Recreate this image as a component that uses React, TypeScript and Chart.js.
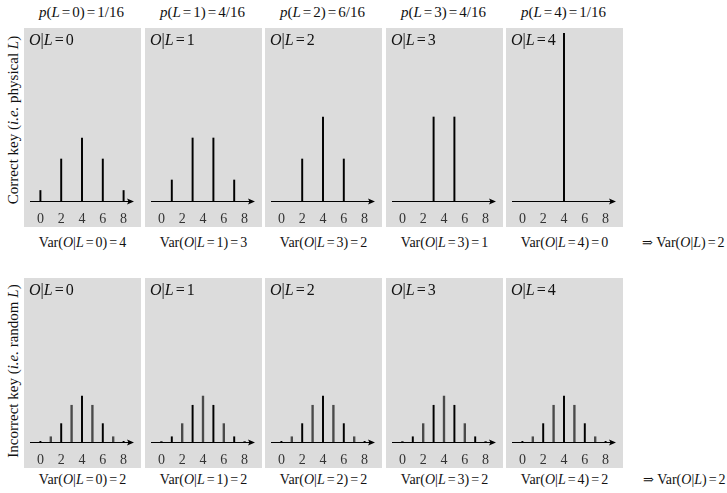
import React, { useEffect, useRef } from "react";
import { Chart, registerables } from "chart.js";

Chart.register(...registerables);

// ---------- data ----------
const outcomes = [0, 1, 2, 3, 4, 5, 6, 7, 8];
const tickValues = [0, 2, 4, 6, 8];
const leakageLevels = [0, 1, 2, 3, 4];
const priorLabels = ["1/16", "4/16", "6/16", "4/16", "1/16"];

// Correct key: P(O = o | L = l)
const correctL0 = [1 / 16, 0, 4 / 16, 0, 6 / 16, 0, 4 / 16, 0, 1 / 16];
const correctL1 = [0, 1 / 8, 0, 3 / 8, 0, 3 / 8, 0, 1 / 8, 0];
const correctL2 = [0, 0, 1 / 4, 0, 1 / 2, 0, 1 / 4, 0, 0];
const correctL3 = [0, 0, 0, 1 / 2, 0, 1 / 2, 0, 0, 0];
const correctL4 = [0, 0, 0, 0, 1, 0, 0, 0, 0];
const correctRows = [correctL0, correctL1, correctL2, correctL3, correctL4];

// Incorrect key: same distribution for every L
const incorrectDist = [1 / 256, 8 / 256, 28 / 256, 56 / 256, 70 / 256, 56 / 256, 28 / 256, 8 / 256, 1 / 256];

const correctVarLevels = [0, 1, 3, 3, 4];
const correctVars = [4, 3, 2, 1, 0];
const incorrectVarLevels = [0, 1, 2, 3, 4];
const incorrectVars = [2, 2, 2, 2, 2];
const overallCorrectVar = 2;
const overallIncorrectVar = 2;

// ---------- layout ----------
const FONT = "'Liberation Serif', 'DejaVu Serif', serif";
const panelLefts = [24, 145, 265, 386, 506];
const panelWidth = 117;
const topRow = { top: 28, height: 199, padTop: 5 };
const bottomRow = { top: 278, height: 190, padTop: 0 };
const PX_PER_UNIT = 168;
const PAD_BOTTOM = 26;

const axisPlugin = {
  id: "arrowAxis",
  afterDatasetsDraw(chart: any) {
    const { ctx } = chart;
    const xs = chart.scales.x;
    const ys = chart.scales.y;
    const y0 = Math.round(ys.getPixelForValue(0)) + 0.5;
    const xa = xs.getPixelForValue(-1);
    const xb = xs.getPixelForValue(9);
    ctx.save();
    ctx.strokeStyle = "#000";
    ctx.fillStyle = "#000";
    ctx.lineWidth = 1;
    ctx.beginPath();
    ctx.moveTo(xa, y0);
    ctx.lineTo(xb - 4, y0);
    ctx.stroke();
    ctx.beginPath();
    ctx.moveTo(xb, y0);
    ctx.lineTo(xb - 7, y0 - 3);
    ctx.lineTo(xb - 5.5, y0);
    ctx.lineTo(xb - 7, y0 + 3);
    ctx.closePath();
    ctx.fill();
    ctx.font = `14px ${FONT}`;
    ctx.textAlign = "center";
    ctx.textBaseline = "middle";
    ctx.fillStyle = "#333";
    tickValues.forEach((v) => {
      ctx.fillText(String(v), xs.getPixelForValue(v), y0 + 17.5);
    });
    ctx.restore();
  },
};

type PanelProps = {
  left: number;
  top: number;
  height: number;
  padTop: number;
  values: number[];
  highlightParity: number | null;
};

function Panel({ left, top, height, padTop, values, highlightParity }: PanelProps) {
  const ref = useRef<HTMLCanvasElement>(null);
  useEffect(() => {
    const canvas = ref.current!;
    const black: { x: number; y: number }[] = [];
    const gray: { x: number; y: number }[] = [];
    outcomes.forEach((o, i) => {
      const v = values[i];
      if (v <= 0) return;
      const pt = { x: o, y: v };
      if (highlightParity === null || o % 2 === highlightParity) black.push(pt);
      else gray.push(pt);
    });
    const areaH = height - padTop - PAD_BOTTOM;
    const chart = new Chart(canvas, {
      type: "bar",
      data: {
        datasets: [
          { data: black, backgroundColor: "#000", barThickness: 1.3, grouped: false, borderWidth: 0 } as any,
          { data: gray, backgroundColor: "#4a4a4a", barThickness: 1.7, grouped: false, borderWidth: 0 } as any,
        ],
      },
      options: {
        animation: false,
        responsive: false,
        maintainAspectRatio: false,
        events: [],
        layout: { padding: { left: 6, right: 7, top: padTop, bottom: PAD_BOTTOM } },
        plugins: { legend: { display: false }, tooltip: { enabled: false }, title: { display: false } },
        scales: {
          x: { type: "linear", min: -1, max: 9, display: false, offset: false },
          y: { type: "linear", min: 0, max: areaH / PX_PER_UNIT, display: false },
        },
      },
      plugins: [axisPlugin],
    });
    return () => chart.destroy();
  }, []);
  return (
    <canvas
      ref={ref}
      width={panelWidth}
      height={height}
      style={{ position: "absolute", left, top, width: panelWidth, height, background: "#dcdcdc" }}
    />
  );
}

const Eq = () => <span style={{ margin: "0 2px" }}>=</span>;

function Label({ x, y, align, children, size = 14 }: any) {
  const w = 200;
  const left = align === "center" ? x - w / 2 : x;
  return (
    <div
      style={{
        position: "absolute",
        left,
        top: y - 9,
        width: w,
        height: 18,
        lineHeight: "18px",
        fontSize: size,
        fontFamily: FONT,
        textAlign: align === "center" ? "center" : "left",
        whiteSpace: "nowrap",
        color: "#111",
      }}
    >
      {children}
    </div>
  );
}

function RowLabel({ cx, cy, children }: any) {
  const w = 240;
  return (
    <div
      style={{
        position: "absolute",
        left: cx - w / 2,
        top: cy - 9,
        width: w,
        height: 18,
        lineHeight: "18px",
        fontSize: 15,
        fontFamily: FONT,
        textAlign: "center",
        whiteSpace: "nowrap",
        transform: "rotate(-90deg)",
        color: "#111",
      }}
    >
      {children}
    </div>
  );
}

export default function App() {
  return (
    <div
      style={{ position: "absolute", left: 0, top: 0, width: 727, height: 493, background: "#fff", overflow: "hidden" }}
    >
      {leakageLevels.map((l, i) => (
        <Label key={"p" + i} x={panelLefts[i] + panelWidth / 2 - 1} y={12} align="center" size={15}>
          <i>p</i>(<i>L</i>
          <Eq />
          {l})<Eq />
          {priorLabels[i]}
        </Label>
      ))}

      {leakageLevels.map((l, i) => (
        <Panel
          key={"c" + i}
          left={panelLefts[i]}
          top={topRow.top}
          height={topRow.height}
          padTop={topRow.padTop}
          values={correctRows[i]}
          highlightParity={null}
        />
      ))}
      {leakageLevels.map((l, i) => (
        <Panel
          key={"r" + i}
          left={panelLefts[i]}
          top={bottomRow.top}
          height={bottomRow.height}
          padTop={bottomRow.padTop}
          values={incorrectDist}
          highlightParity={l % 2}
        />
      ))}

      {leakageLevels.map((l, i) => (
        <Label key={"tc" + i} x={panelLefts[i] + 5} y={40} align="left" size={16}>
          <i>O</i>|<i>L</i>
          <Eq />
          {l}
        </Label>
      ))}
      {leakageLevels.map((l, i) => (
        <Label key={"tr" + i} x={panelLefts[i] + 5} y={290} align="left" size={16}>
          <i>O</i>|<i>L</i>
          <Eq />
          {l}
        </Label>
      ))}

      {leakageLevels.map((l, i) => (
        <Label key={"vc" + i} x={panelLefts[i] + panelWidth / 2} y={243} align="center">
          Var(<i>O</i>|<i>L</i>
          <Eq />
          {correctVarLevels[i]})<Eq />
          {correctVars[i]}
        </Label>
      ))}
      {leakageLevels.map((l, i) => (
        <Label key={"vr" + i} x={panelLefts[i] + panelWidth / 2} y={480} align="center">
          Var(<i>O</i>|<i>L</i>
          <Eq />
          {incorrectVarLevels[i]})<Eq />
          {incorrectVars[i]}
        </Label>
      ))}

      <Label x={642} y={243} align="left" size={14}>
        <span style={{ fontSize: 13 }}>⇒</span> Var(<i>O</i>|<i>L</i>)<Eq />
        {overallCorrectVar}
      </Label>
      <Label x={643} y={480} align="left" size={14}>
        <span style={{ fontSize: 13 }}>⇒</span> Var(<i>O</i>|<i>L</i>)<Eq />
        {overallIncorrectVar}
      </Label>

      <RowLabel cx={13} cy={120}>
        Correct key (<i>i.e.</i> physical <i>L</i>)
      </RowLabel>
      <RowLabel cx={13} cy={371}>
        Incorrect key (<i>i.e.</i> random <i>L</i>)
      </RowLabel>
    </div>
  );
}
